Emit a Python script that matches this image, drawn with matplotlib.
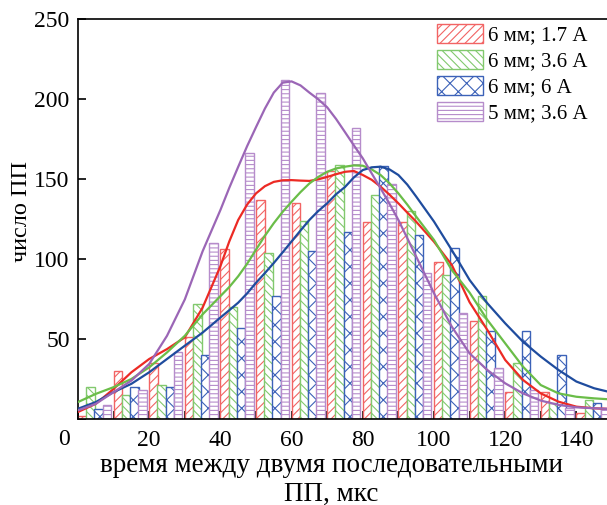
import matplotlib
matplotlib.use('Agg')
import matplotlib.pyplot as plt
from matplotlib.ticker import MultipleLocator

plt.rcParams['font.family'] = ['Liberation Serif', 'DejaVu Serif']
plt.rcParams['hatch.linewidth'] = 0.8

# histogram bins (left edges), 10 us wide
bins = [0, 10, 20, 30, 40, 50, 60, 70, 80, 90, 100, 110, 120, 130, 140]
red_counts = [2, 30, 35, 51, 106, 137, 135, 155, 123, 123, 98, 61, 17, 17, 4]
green_counts = [20, 15, 21, 72, 70, 104, 124, 159, 140, 130, 90, 77, 35, 10, 12]
blue_counts = [6, 20, 20, 40, 57, 77, 105, 117, 158, 115, 107, 55, 55, 40, 10]
purple_counts = [9, 18, 42, 110, 166, 212, 204, 182, 147, 91, 66, 32, 18, 7, 7]

# fitted curves
curve_x = [0, 5, 10, 15, 20, 25, 30, 35,
           40, 42.5, 45, 47.5, 50, 52.5, 55, 57.5, 60, 62.5, 65, 67.5, 70,
           72.5, 75, 77.5, 80, 82.5, 85, 87.5, 90, 92.5, 95,
           100, 105, 110, 115, 120, 125, 130, 135, 140, 145, 150]
red_fit = [4.4, 9.5, 18.8, 29.2, 37.5, 43.7, 51, 69.6,
           95.5, 111, 124.4, 134, 141, 145.5, 148.2, 149.2, 149.3, 149, 148.8,
           149.8, 151.3, 153, 154.5, 155, 152.5, 149.5, 145.2, 140.2, 134.8,
           129, 123.3,
           110.8, 96.3, 73, 55.6, 36.9, 24.4, 16, 10.8, 7.7, 6.7, 6.2]
green_fit = [10.6, 15.7, 19.9, 25, 32.3, 41.6, 52, 65.4,
             76.8, 82.5, 89.2, 97, 105.8, 114.5, 122.4, 129.5, 135.8, 141.8,
             147.2, 151.3, 154.5, 156.6, 157.7, 158.5, 158.3, 156, 152.5, 147.3,
             141, 134, 126.5,
             111.9, 93.1, 79, 61.9, 47.3, 32.7, 21.2, 16, 13.9, 12.9, 12.2]
blue_fit = [6.4, 10.6, 16.8, 22, 29.2, 37.5, 45.8, 54,
            63.4, 68, 72.7, 78.5, 85.1, 91.2, 97.5, 104.2, 111, 117.8, 124.4,
            130, 134.8, 140.5, 145, 151, 155.6, 157.3, 157.7, 156, 152.5, 146.5,
            139,
            123.4, 105.6, 86.9, 72.3, 59.8, 48.3, 39, 30.6, 23.4, 19.2, 16.5]
purple_fit = [5.4, 9.5, 16.8, 24, 34.4, 52, 74.7, 104.8,
              130.6, 144.5, 157.6, 170.5, 182.4, 194, 204, 210.2, 211, 208.5,
              204, 199.8, 194.8, 187.5, 179.3, 171, 162.9, 153.5, 144.2, 134.5,
              124.4, 113, 101.5,
              78.6, 57.7, 41, 30.6, 22.3, 16, 11.5, 8.8, 7.3, 6.7, 6.2]

labels = ['6 мм; 1.7 А', '6 мм; 3.6 А', '6 мм; 6 А', '5 мм; 3.6 А']

fig = plt.figure(figsize=(6.07, 5.05), dpi=100)
ax = fig.add_axes([78 / 607, 1 - 419 / 505, 1 - 78 / 607, (419 - 19) / 505])

series = [
    (red_counts, red_fit, '#f26464', '#ec2a24', '////'),
    (green_counts, green_fit, '#82c96e', '#6abd48', '\\\\\\\\'),
    (blue_counts, blue_fit, '#3c62b8', '#1f4c9e', 'xx'),
    (purple_counts, purple_fit, '#b68ccb', '#9b66b6', '----'),
]

bar_w = 2.4
step = 2.3
handles = []
for i, (counts, fit, bc, lc, hatch) in enumerate(series):
    xs = [b + i * step for b in bins]
    bars = ax.bar(xs, counts, width=bar_w, align='edge', facecolor='white',
                  edgecolor=bc, hatch=hatch, linewidth=1.0, zorder=2 + i * 0.1,
                  label=labels[i])
    handles.append(bars)

for i, (counts, fit, bc, lc, hatch) in enumerate(series):
    ax.plot(curve_x, fit, color=lc, linewidth=1.6, zorder=5)

ax.set_xlim(0, 148.6)
ax.set_ylim(0, 250)
ax.set_xticks(range(0, 141, 20))
ax.set_xticklabels([''] + [str(v) for v in range(20, 141, 20)])
ax.xaxis.set_minor_locator(MultipleLocator(10))
ax.set_yticks(range(0, 251, 50))
ax.set_yticklabels([''] + [str(v) for v in range(50, 251, 50)])
ax.tick_params(axis='both', which='both', direction='in', length=6, width=1.2,
               labelsize=17, top=False, right=False)
ax.tick_params(axis='x', pad=8)
ax.tick_params(axis='y', pad=6)
ax.spines['right'].set_visible(False)
for s in ['left', 'bottom', 'top']:
    ax.spines[s].set_linewidth(1.2)

fig.text(64 / 607, 1 - 445 / 505, '0', fontsize=17, ha='center', va='baseline')
fig.text(331 / 607, 1 - 472 / 505, 'время между двумя последовательными',
         fontsize=19.5, ha='center', va='baseline')
fig.text(331 / 607, 1 - 500.5 / 505, 'ПП, мкс', fontsize=19.5, ha='center',
         va='baseline')
fig.text(22 / 607, 1 - 212 / 505, 'число ПП', fontsize=17.5, rotation=90,
         ha='center', va='center')

fs = 15
px = fs * 100 / 72
ax.legend(handles=handles, loc='upper left',
          bbox_to_anchor=(437 / 607, 1 - 24 / 505),
          bbox_transform=fig.transFigure, frameon=False, fontsize=fs,
          borderpad=0, borderaxespad=0, handlelength=46 / px,
          handleheight=21 / px, labelspacing=4.5 / px, handletextpad=5 / px)

fig.savefig('out.png', dpi=100)
